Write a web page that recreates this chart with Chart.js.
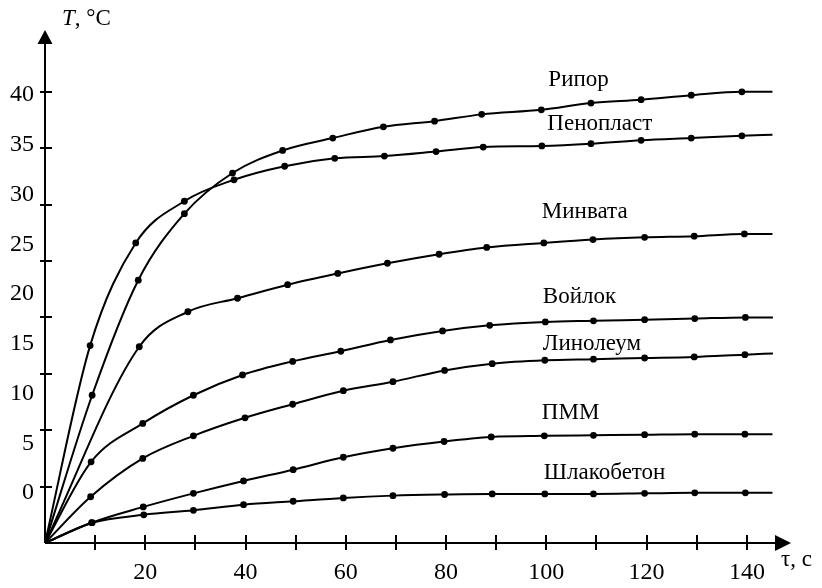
<!DOCTYPE html>
<html>
<head>
<meta charset="utf-8">
<title>Нагрев образцов</title>
<script src="https://cdn.jsdelivr.net/npm/chart.js@4.4.1/dist/chart.umd.min.js"></script>
<style>
  html, body { margin: 0; padding: 0; background: #fff; }
  #wrap { width: 822px; height: 588px; }
</style>
</head>
<body>
<div id="wrap"><canvas id="heatChart"></canvas></div>
<script>
// время τ, с и температура T, °C по каждому материалу
// (последняя точка каждого ряда — конец кривой, без маркера)
const tauRipor = [0, 9.4, 18.6, 27.8, 37.4, 47.4, 57.4, 67.5, 77.7, 87.1, 99.0, 108.9, 118.9, 128.9, 139.0, 145.1];
const tRipor = [0, 13.1, 23.3, 29.2, 32.8, 34.8, 35.9, 36.9, 37.4, 38.0, 38.4, 39.0, 39.3, 39.7, 40.0, 40.0];

const tauPenoplast = [0, 9.0, 18.1, 27.8, 37.7, 47.8, 57.8, 67.7, 78.0, 87.4, 99.1, 108.9, 118.9, 128.9, 139.0, 145.1];
const tPenoplast = [0, 17.5, 26.6, 30.3, 32.2, 33.4, 34.1, 34.3, 34.7, 35.1, 35.2, 35.4, 35.7, 35.9, 36.1, 36.2];

const tauMinvata = [0, 18.8, 28.5, 38.4, 48.4, 58.4, 68.3, 78.6, 88.1, 99.5, 109.3, 119.6, 129.5, 139.5, 145.1];
const tMinvata = [0, 17.4, 20.5, 21.7, 22.9, 23.9, 24.8, 25.6, 26.2, 26.6, 26.9, 27.1, 27.2, 27.4, 27.4];

const tauVoilok = [0, 9.2, 19.5, 29.6, 39.4, 49.4, 59.0, 68.9, 79.3, 88.7, 99.8, 109.4, 119.6, 129.6, 139.7, 145.2];
const tVoilok = [0, 7.2, 10.6, 13.1, 14.9, 16.1, 17.0, 18.0, 18.8, 19.3, 19.6, 19.7, 19.8, 19.9, 20.0, 20.0];

const tauLinoleum = [0, 9.1, 19.5, 29.6, 39.9, 49.4, 59.5, 69.4, 79.7, 89.2, 99.7, 109.4, 119.6, 129.5, 139.6, 145.2];
const tLinoleum = [0, 4.1, 7.5, 9.5, 11.1, 12.3, 13.5, 14.3, 15.3, 15.9, 16.2, 16.3, 16.4, 16.5, 16.7, 16.8];

const tauPmm = [0, 9.3, 19.6, 29.6, 39.6, 49.5, 59.5, 69.4, 79.6, 89.0, 99.6, 109.4, 119.6, 129.6, 139.6, 145.1];
const tPmm = [0, 1.8, 3.2, 4.4, 5.5, 6.5, 7.6, 8.4, 9.0, 9.4, 9.5, 9.55, 9.6, 9.65, 9.65, 9.65];

const tauShlak = [0, 9.4, 19.7, 29.6, 39.6, 49.5, 59.5, 69.4, 79.7, 89.2, 99.7, 109.4, 119.6, 129.6, 139.7, 145.1];
const tShlak = [0, 1.8, 2.5, 2.9, 3.4, 3.7, 4.0, 4.2, 4.3, 4.35, 4.35, 4.35, 4.4, 4.45, 4.45, 4.45];

const materials = ['Рипор', 'Пенопласт', 'Минвата', 'Войлок', 'Линолеум', 'ПММ', 'Шлакобетон'];
const seriesTau = [tauRipor, tauPenoplast, tauMinvata, tauVoilok, tauLinoleum, tauPmm, tauShlak];
const seriesT = [tRipor, tPenoplast, tMinvata, tVoilok, tLinoleum, tPmm, tShlak];

// засечки осей и подписи шкалы температуры
const tauTicks = [10, 20, 30, 40, 50, 60, 70, 80, 90, 100, 110, 120, 130, 140];
const tempTicks = [5, 10, 15, 20, 25, 30, 35, 40];
const tempLabels = [0, 5, 10, 15, 20, 25, 30, 35, 40];

// где подписать каждую кривую (τ, T — левый край, базовая линия текста)
const nameTau = [100.4, 100.2, 99.1, 99.3, 99.3, 99.1, 99.5];
const nameT = [40.5, 36.6, 28.8, 21.3, 17.1, 11.0, 5.7];

const serif = 'Liberation Serif, Times New Roman, serif';

const datasets = materials.map((name, i) => {
    const last = seriesTau[i].length - 1;
    return {
        label: name,
        data: seriesTau[i].map((tau, j) => ({ x: tau, y: seriesT[i][j] })),
        borderColor: '#000',
        backgroundColor: '#000',
        borderWidth: 2,
        cubicInterpolationMode: 'monotone',
        pointRadius: ctx => ctx.dataIndex === last ? 0 : 3.4,
        pointBorderWidth: 0,
        fill: false
    };
});

const drawAxes = {
    id: 'drawAxes',
    afterDraw(chart) {
        const { ctx, chartArea: a } = chart;
        const x = chart.scales.x;
        const y = chart.scales.y;
        ctx.save();
        ctx.strokeStyle = '#000';
        ctx.fillStyle = '#000';
        ctx.lineWidth = 2;

        // оси
        ctx.beginPath();
        ctx.moveTo(a.left, a.bottom);
        ctx.lineTo(a.left, a.top + 10);
        ctx.moveTo(a.left, a.bottom);
        ctx.lineTo(a.right - 10, a.bottom);
        ctx.stroke();

        // стрелки
        ctx.beginPath();
        ctx.moveTo(a.left, a.top);
        ctx.lineTo(a.left - 7.5, a.top + 14);
        ctx.lineTo(a.left + 7.5, a.top + 14);
        ctx.closePath();
        ctx.moveTo(a.right, a.bottom);
        ctx.lineTo(a.right - 16, a.bottom - 8);
        ctx.lineTo(a.right - 16, a.bottom + 8);
        ctx.closePath();
        ctx.fill();

        // засечки
        ctx.beginPath();
        tempTicks.forEach(v => {
            const py = Math.round(y.getPixelForValue(v));
            ctx.moveTo(a.left - 5, py);
            ctx.lineTo(a.left + 7, py);
        });
        tauTicks.forEach(v => {
            const px = Math.round(x.getPixelForValue(v));
            ctx.moveTo(px, a.bottom - 8);
            ctx.lineTo(px, a.bottom + 7);
        });
        ctx.stroke();

        // названия осей
        ctx.textBaseline = 'alphabetic';
        ctx.textAlign = 'left';
        ctx.font = 'italic 23px ' + serif;
        ctx.fillText('T', a.left + 17, 25);
        const tw = ctx.measureText('T').width;
        ctx.font = '23px ' + serif;
        ctx.fillText(', °C', a.left + 17 + tw, 25);
        ctx.fillText('τ, с', a.right - 10, 566);

        // подписи кривых
        materials.forEach((name, i) => {
            ctx.fillText(name, x.getPixelForValue(nameTau[i]), y.getPixelForValue(nameT[i]));
        });
        ctx.restore();
    }
};

new Chart(document.getElementById('heatChart'), {
    type: 'line',
    data: { datasets: datasets },
    options: {
        responsive: true,
        maintainAspectRatio: false,
        animation: false,
        layout: { padding: { top: 30, right: 31, left: 0, bottom: 0 } },
        plugins: {
            legend: { display: false },
            tooltip: { enabled: false }
        },
        scales: {
            x: {
                type: 'linear',
                min: 0,
                max: 148.8,
                grid: { display: false, drawTicks: false },
                border: { display: false },
                afterBuildTicks: s => { s.ticks = tauTicks.map(v => ({ value: v })); },
                afterFit: s => { s.height = 45; },
                ticks: {
                    padding: 15,
                    color: '#000',
                    font: { family: serif, size: 24 },
                    callback: v => v % 20 === 0 ? String(v) : ''
                }
            },
            y: {
                type: 'linear',
                display: false,
                min: 0,
                max: 45.48
            },
            yLabels: {
                type: 'linear',
                position: 'left',
                min: -5.03,
                max: 46.53,
                grid: { display: false, drawTicks: false },
                border: { display: false },
                afterBuildTicks: s => { s.ticks = tempLabels.map(v => ({ value: v })); },
                afterFit: s => { s.width = 45; },
                ticks: {
                    padding: 11,
                    color: '#000',
                    font: { family: serif, size: 24 },
                    callback: v => String(v)
                }
            }
        }
    },
    plugins: [drawAxes]
});
</script>
</body>
</html>
